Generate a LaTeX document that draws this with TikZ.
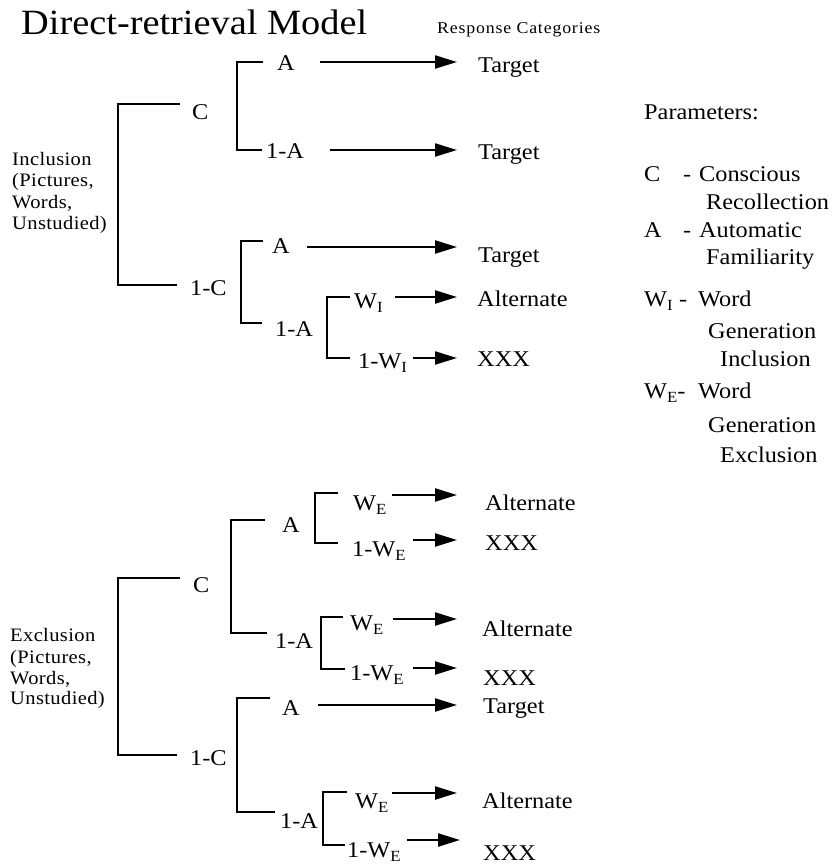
\documentclass[tikz,border=0pt]{standalone}
\usepackage{fontspec}
\setmainfont[FakeStretch=1.08]{Liberation Serif}
\usetikzlibrary{arrows.meta}
\newcommand\lowsub[1]{\raisebox{-4.5pt}{\fontsize{15.5}{16}\selectfont #1}}
\tikzset{
  lbl/.style={font=\fontsize{22.5}{27}\selectfont, inner sep=0pt, anchor=base west},
  sml/.style={font=\fontsize{19}{22}\selectfont\addfontfeatures{LetterSpace=2}, inner sep=0pt, anchor=base west},
  ttl/.style={font=\fontsize{35.5}{40}\selectfont, inner sep=0pt, anchor=base west},
  rsp/.style={font=\fontsize{16.5}{19}\selectfont\addfontfeatures{LetterSpace=5}, inner sep=0pt, anchor=base west},
  br/.style={line width=2.4pt},
  arr/.style={line width=2.2pt, -{Triangle[length=22pt,width=13pt]}},
}
\begin{document}
\begin{tikzpicture}[x=1pt,y=-1pt]
\path[use as bounding box, fill=white] (0,0) rectangle (836,866);

% titles
\node[ttl] (title) at (21,35) {Direct-retrieval Model};
\node[rsp] (resp) at (437,34) {Response Categories};

% ---------------- Inclusion ----------------
\node[sml] (inc1) at (12,166) {Inclusion};
\node[sml] (inc2) at (12,187) {(Pictures,};
\node[sml] (inc3) at (12,209) {Words,};
\node[sml] (inc4) at (12,230) {Unstudied)};

\node[lbl] (iC) at (192,120) {C};
\node[lbl] (iCA) at (277,71) {A};
\node[lbl] (iC1A) at (266,159) {1-A};
\node[lbl] (iT1) at (478,73) {Target};
\node[lbl] (iT2) at (478,160) {Target};
\node[lbl] (i1C) at (190,295) {1-C};
\node[lbl] (i1CA) at (272,254) {A};
\node[lbl] (i1C1A) at (275,336) {1-A};
\node[lbl] (iW) at (354,308) {W\lowsub{I}};
\node[lbl] (i1W) at (358,368) {1-W\lowsub{I}};
\node[lbl] (iT3) at (478,262) {Target};
\node[lbl] (iAl) at (477,306) {Alternate};
\node[lbl] (iX) at (477,366) {XXX};

\draw[br] (180,104) -- (118,104) -- (118,285) -- (177,285);
\draw[br] (263,62) -- (237,62) -- (237,150) -- (262,150);
\draw[br] (263,241) -- (241,241) -- (241,323) -- (262,323);
\draw[br] (350,297) -- (327,297) -- (327,358) -- (350,358);

\draw[arr] (320,62) -- (457,62);
\draw[arr] (330,150) -- (457,150);
\draw[arr] (307,247) -- (457,247);
\draw[arr] (395,297) -- (457,297);
\draw[arr] (413,358) -- (457,358);

% ---------------- Exclusion ----------------
\node[sml] (exc1) at (10,641) {Exclusion};
\node[sml] (exc2) at (10,663) {(Pictures,};
\node[sml] (exc3) at (10,684) {Words,};
\node[sml] (exc4) at (10,704) {Unstudied)};

\node[lbl] (eC) at (193,592) {C};
\node[lbl] (eCA) at (282,532) {A};
\node[lbl] (eCAW) at (353,510) {W\lowsub{E}};
\node[lbl] (eCA1W) at (352,556) {1-W\lowsub{E}};
\node[lbl] (eAl1) at (485,510) {Alternate};
\node[lbl] (eX1) at (485,550) {XXX};
\node[lbl] (eC1A) at (275,648) {1-A};
\node[lbl] (eC1AW) at (350,630) {W\lowsub{E}};
\node[lbl] (eC1A1W) at (350,680) {1-W\lowsub{E}};
\node[lbl] (eAl2) at (482,636) {Alternate};
\node[lbl] (eX2) at (483,685) {XXX};
\node[lbl] (e1C) at (190,765) {1-C};
\node[lbl] (e1CA) at (282,715) {A};
\node[lbl] (eT) at (483,713) {Target};
\node[lbl] (e1C1A) at (280,828) {1-A};
\node[lbl] (e1C1AW) at (355,808) {W\lowsub{E}};
\node[lbl] (e1C1A1W) at (347,857) {1-W\lowsub{E}};
\node[lbl] (eAl3) at (482,808) {Alternate};
\node[lbl] (eX3) at (483,860) {XXX};

\draw[br] (180,578) -- (118,578) -- (118,755) -- (177,755);
\draw[br] (265,520) -- (231,520) -- (231,633) -- (267,633);
\draw[br] (338,493) -- (315,493) -- (315,543) -- (338,543);
\draw[br] (343,617) -- (321,617) -- (321,669) -- (345,669);
\draw[br] (270,698) -- (237,698) -- (237,812) -- (275,812);
\draw[br] (347,792) -- (323,792) -- (323,845) -- (345,845);

\draw[arr] (392,495) -- (457,495);
\draw[arr] (413,540) -- (457,540);
\draw[arr] (393,619) -- (457,619);
\draw[arr] (413,668) -- (457,668);
\draw[arr] (318,705) -- (457,705);
\draw[arr] (392,793) -- (457,793);
\draw[arr] (407,840) -- (460,840);

% ---------------- Parameters ----------------
\node[lbl] (pH) at (644,120) {Parameters:};
\node[lbl] (pC) at (644,182) {\makebox[39pt][l]{C}\makebox[16pt][l]{-}Conscious};
\node[lbl] (pC2) at (706,210) {Recollection};
\node[lbl] (pA) at (644,238) {\makebox[39pt][l]{A}\makebox[16pt][l]{-}Automatic};
\node[lbl] (pA2) at (706,265) {Familiarity};
\node[lbl] (pW) at (644,306) {\makebox[35pt][l]{W\lowsub{I}}\makebox[19pt][l]{-}Word};
\node[lbl] (pW2) at (708,338) {Generation};
\node[lbl] (pW3) at (720,366) {Inclusion};
\node[lbl] (pE) at (644,398) {\makebox[54pt][l]{W\lowsub{E}-}Word};
\node[lbl] (pE2) at (708,432) {Generation};
\node[lbl] (pE3) at (720,462) {Exclusion};
\end{tikzpicture}
\end{document}
